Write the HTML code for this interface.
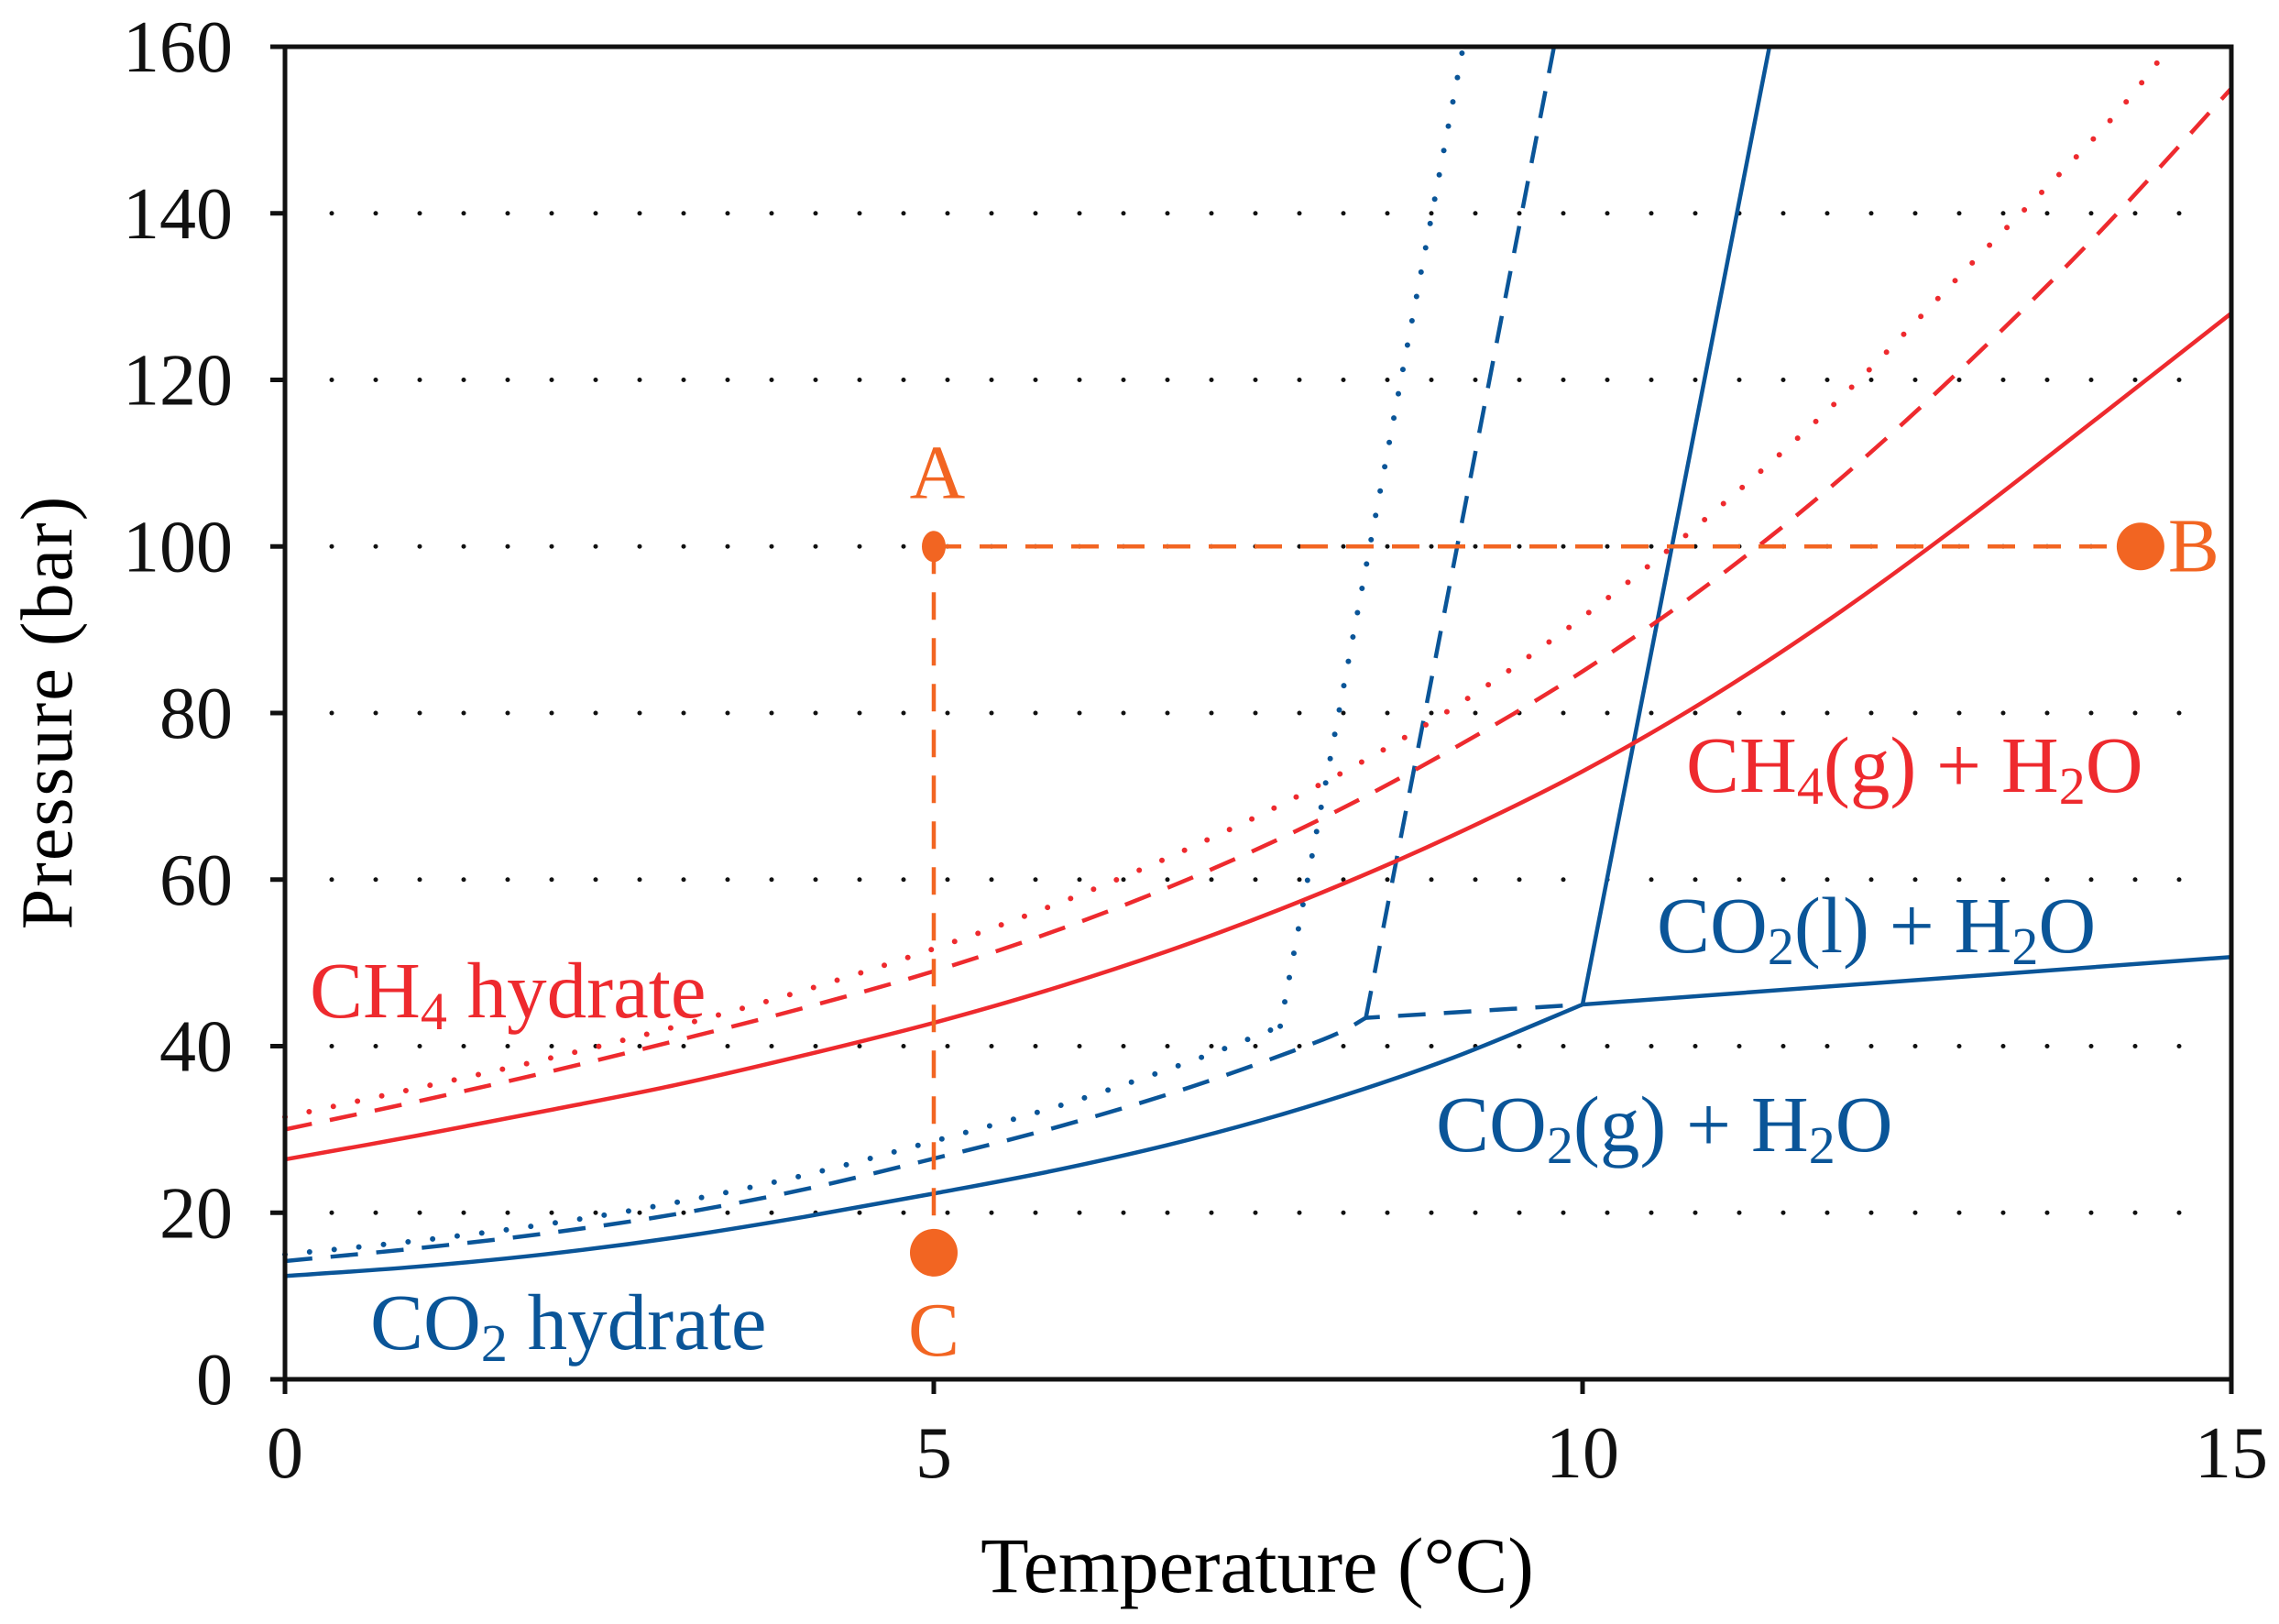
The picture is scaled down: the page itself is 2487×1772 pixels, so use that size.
<!DOCTYPE html>
<html><head><meta charset="utf-8">
<style>
html,body{margin:0;padding:0;background:#fff;}
svg{display:block;}
text{font-family:"Liberation Serif",serif;}
</style></head>
<body>
<svg id="chart" width="2487" height="1772" viewBox="0 0 2487 1772" xmlns="http://www.w3.org/2000/svg">
<g id="grid"></g>
<g id="series"></g>
<g id="axes"></g>
<g id="labels" font-size="87">
<text x="338" y="1110" fill="#ee2a2e">CH<tspan font-size="58" dy="13">4</tspan><tspan dy="-13"> hydrate</tspan></text>
<text x="1840" y="864" fill="#ee2a2e">CH<tspan font-size="58" dy="13">4</tspan><tspan dy="-13">(g) + H</tspan><tspan font-size="58" dy="13">2</tspan><tspan dy="-13">O</tspan></text>
<text x="1808" y="1039" fill="#0a5598">CO<tspan font-size="58" dy="13">2</tspan><tspan dy="-13">(l) + H</tspan><tspan font-size="58" dy="13">2</tspan><tspan dy="-13">O</tspan></text>
<text x="1567" y="1256" fill="#0a5598">CO<tspan font-size="58" dy="13">2</tspan><tspan dy="-13">(g) + H</tspan><tspan font-size="58" dy="13">2</tspan><tspan dy="-13">O</tspan></text>
<text x="404" y="1472" fill="#0a5598">CO<tspan font-size="58" dy="13">2</tspan><tspan dy="-13"> hydrate</tspan></text>
</g>
<text transform="translate(78,777) rotate(-90)" text-anchor="middle" font-size="80" letter-spacing="2">Pressure (bar)</text>
<text x="1372" y="1737" text-anchor="middle" font-size="86">Temperature (°C)</text>
</svg>
<script>
const xTicks=[0,5,10,15];
const yTicks=[0,20,40,60,80,100,120,140,160];
const gridValues=[20,40,60,80,100,120,140];
const ch4SolidT=[0,1,2,3,4,5,6,7,8,9,10,11,12,13,14,15];
const ch4SolidP=[26.4,29.2,32.2,35.3,38.9,42.8,47.3,52.5,58.5,65.3,73,82,92.3,103.7,115.8,128];
const ch4DashT=[0,1,2,3,4,5,6,7,8,9,10,11,12,13,14,15];
const ch4DashP=[30,33.3,36.8,40.6,44.6,49,54.2,60.3,67.4,75.7,85,95.8,108.3,122.5,138,155];
const ch4DotT=[0,1,2,3,4,5,6,7,8,9,10,11,12,13,14,14.5];
const ch4DotP=[31.5,34.9,38.4,42.3,46.7,51.7,57.4,64,71.6,80.6,91.5,104,118,134,150,159.5];
const co2SolidT=[0,1,2,3,4,5,6,7,8,9,10,15];
const co2SolidP=[12.4,13.5,15,17,19.5,22.3,25.3,28.9,33.3,38.6,45,50.7];
const co2SolidLiqT=[10,11.44];
const co2SolidLiqP=[45,160];
const co2DashT=[0,1,2,3,4,5,6,7,8,8.33,10];
const co2DashP=[14.2,15.7,17.5,19.8,22.8,26.5,30.5,35.2,40.8,43.4,45];
const co2DashLiqT=[8.33,9.78];
const co2DashLiqP=[43.4,160];
const co2DotT=[0,1,2,3,4,5,6,7,7.67];
const co2DotP=[15,16.6,18.6,21.2,24.5,28.6,33,38.3,42.4];
const co2DotLiqT=[7.67,9.08];
const co2DotLiqP=[42.4,160];
const pointA=[5,100], pointB=[14.3,100], pointC=[5,15.2];

const X0=311,X1=2435,Y0=1505,Y1=51;
const sx=t=>X0+(t-0)/(15-0)*(X1-X0);
const sy=p=>Y0-(p-0)/(160-0)*(Y0-Y1);
const NS='http://www.w3.org/2000/svg';
function mk(tag,attrs,parent){const e=document.createElementNS(NS,tag);for(const k in attrs)e.setAttribute(k,attrs[k]);parent.appendChild(e);return e;}
const grid=document.getElementById('grid'),series=document.getElementById('series'),axes=document.getElementById('axes');

gridValues.forEach(v=>{
  const l=mk('line',{x1:362,x2:X1-20,y1:sy(v),y2:sy(v),stroke:'#111','stroke-width':5,'stroke-dasharray':'0 48','stroke-linecap':'round'},grid);
  
  
});

function smoothPath(T,P){
  const pts=T.map((t,i)=>[sx(t),sy(P[i])]);
  let d='M'+pts[0][0]+','+pts[0][1];
  for(let i=0;i<pts.length-1;i++){
    const p0=pts[i-1]||pts[i],p1=pts[i],p2=pts[i+1],p3=pts[i+2]||p2;
    const c1=[p1[0]+(p2[0]-p0[0])/6,p1[1]+(p2[1]-p0[1])/6];
    const c2=[p2[0]-(p3[0]-p1[0])/6,p2[1]-(p3[1]-p1[1])/6];
    d+=' C'+c1[0]+','+c1[1]+' '+c2[0]+','+c2[1]+' '+p2[0]+','+p2[1];
  }
  return d;
}
function linePath(T,P){return T.map((t,i)=>(i?'L':'M')+sx(t)+','+sy(P[i])).join(' ');}
const RED='#ee2a2e',BLUE='#0a5598',OR='#f26522';
const dash='30 20',dot='0 27';
function addSeries(name,d,color,da){
  const p=mk('path',{d:d,fill:'none',stroke:color,'stroke-width':4.5,'stroke-linecap':da===dot?'round':'butt','stroke-linejoin':'round'},series);
  if(da)p.setAttribute('stroke-dasharray',da);
  if(da===dot)p.setAttribute('stroke-width',6);
  
  
}
addSeries('co2-hydrate-dotted-curve',smoothPath(co2DotT,co2DotP),BLUE,dot);
addSeries('co2-liquid-dotted-line',linePath(co2DotLiqT,co2DotLiqP),BLUE,dot);
addSeries('co2-hydrate-dashed-curve',smoothPath(co2DashT.slice(0,-1),co2DashP.slice(0,-1))+' L'+sx(co2DashT[co2DashT.length-1])+','+sy(co2DashP[co2DashP.length-1]),BLUE,dash);
addSeries('co2-liquid-dashed-line',linePath(co2DashLiqT,co2DashLiqP),BLUE,dash);
addSeries('co2-hydrate-solid-curve',smoothPath(co2SolidT.slice(0,-1),co2SolidP.slice(0,-1))+' L'+sx(co2SolidT[co2SolidT.length-1])+','+sy(co2SolidP[co2SolidP.length-1]),BLUE,null);
addSeries('co2-liquid-solid-line',linePath(co2SolidLiqT,co2SolidLiqP),BLUE,null);
addSeries('ch4-hydrate-dotted-curve',smoothPath(ch4DotT,ch4DotP),RED,dot);
addSeries('ch4-hydrate-dashed-curve',smoothPath(ch4DashT,ch4DashP),RED,dash);
addSeries('ch4-hydrate-solid-curve',smoothPath(ch4SolidT,ch4SolidP),RED,null);

const ab=mk('line',{x1:sx(pointA[0]),y1:sy(pointA[1]),x2:sx(pointB[0]),y2:sy(pointB[1]),stroke:OR,'stroke-width':4.5,'stroke-dasharray':dash},series);


const ac=mk('line',{x1:sx(pointA[0]),y1:sy(pointA[1]),x2:sx(pointC[0]),y2:sy(pointC[1]),stroke:OR,'stroke-width':4.5,'stroke-dasharray':dash},series);


const dA=mk('ellipse',{cx:sx(pointA[0]),cy:sy(pointA[1]),rx:13,ry:17,fill:OR},series);


const dB=mk('circle',{cx:sx(pointB[0]),cy:sy(pointB[1]),r:26,fill:OR},series);


const dC=mk('circle',{cx:sx(pointC[0]),cy:sy(pointC[1]),r:26,fill:OR},series);


const lA=mk('text',{x:sx(pointA[0])+4,y:sy(pointA[1])-53,'text-anchor':'middle','font-size':84,fill:OR},series);
lA.textContent='A';


const lB=mk('text',{x:sx(pointB[0])+30,y:sy(pointB[1])+27,'font-size':84,fill:OR},series);
lB.textContent='B';


const lC=mk('text',{x:sx(pointC[0]),y:sy(pointC[1])+112,'text-anchor':'middle','font-size':84,fill:OR},series);
lC.textContent='C';



const frame=mk('rect',{x:X0,y:Y1,width:X1-X0,height:Y0-Y1,fill:'none',stroke:'#111','stroke-width':5},axes);


yTicks.forEach(v=>{
  const t=mk('line',{x1:X0-16,x2:X0,y1:sy(v),y2:sy(v),stroke:'#111','stroke-width':5},axes);
  
  
  const l=mk('text',{x:254,y:sy(v)+27,'text-anchor':'end','font-size':80,fill:'#111'},axes);
  l.textContent=v;
  
  
});
xTicks.forEach(v=>{
  const t=mk('line',{x1:sx(v),x2:sx(v),y1:Y0,y2:Y0+16,stroke:'#111','stroke-width':5},axes);
  
  
  const l=mk('text',{x:sx(v),y:1612,'text-anchor':'middle','font-size':80,fill:'#111'},axes);
  l.textContent=v;
  
  
});
</script>
</body></html>
